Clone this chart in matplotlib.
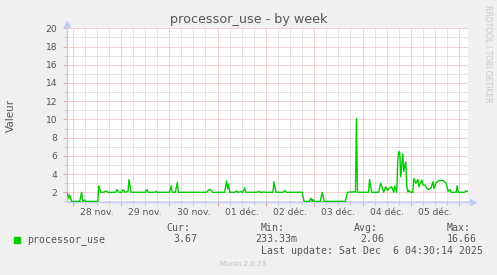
import matplotlib as mpl
mpl.use('Agg')
import matplotlib.pyplot as plt
from matplotlib.ticker import MultipleLocator, NullFormatter
from matplotlib import transforms
from matplotlib.patches import Rectangle

# x = hours since 27 nov 00:00
hours = [21.2, 22.0, 22.5, 23.0, 23.5, 27.5, 28.5, 29.0, 30.0, 30.5, 36.5, 37.0, 38.0,
         39.5, 40.5, 41.5, 45.5, 46.0, 47.0, 48.5, 49.0, 50.0, 51.5, 52.0, 53.0,
         60.0, 61.0, 61.5, 65.0, 65.5, 66.0, 72.0, 73.0, 73.5, 75.0, 76.0, 76.5,
         90.5, 91.5, 92.5, 93.5, 99.5, 100.5, 101.0, 101.5, 102.0, 104.5, 105.5, 106.0,
         106.5, 107.5, 108.0, 108.5, 109.5, 110.0, 115.5, 116.5, 117.0, 118.5, 119.0, 119.5,
         123.5, 124.0, 125.0, 128.5, 129.5, 130.0, 138.0, 139.0, 141.5, 142.5, 143.0, 143.5,
         144.0, 147.0, 148.0, 149.0, 159.5, 160.5, 164.0, 164.5, 165.0, 165.5,
         171.0, 171.5, 172.5, 176.0, 177.0, 178.0, 178.5, 179.5, 180.5, 181.0, 182.5, 183.5,
         184.0, 185.0, 185.5, 186.0, 186.5, 187.0, 188.0, 188.5, 189.5, 190.0, 190.5, 191.0,
         192.0, 193.0, 193.5, 194.5, 195.5, 196.0, 197.5, 198.0, 199.0, 200.0, 201.0, 202.0,
         203.0, 203.5, 204.5, 205.5, 206.5, 208.0, 209.5, 210.5, 211.5, 212.0, 214.5, 215.0,
         215.5, 218.5, 219.5, 220.4]
values = [2.0, 1.35, 1.7, 1.35, 1.0, 1.0, 2.0, 1.0, 1.15, 1.0, 1.0, 2.7, 2.0,
          2.0, 2.15, 2.0, 2.0, 2.3, 2.0, 2.0, 2.3, 2.0, 2.1, 3.4, 2.0,
          2.0, 2.3, 2.0, 2.0, 2.1, 2.0, 2.0, 2.7, 2.0, 2.0, 3.05, 2.0,
          2.0, 2.25, 2.3, 2.0, 2.0, 3.25, 2.4, 2.9, 2.0, 2.0, 2.15, 2.0,
          2.0, 2.1, 2.0, 2.0, 2.5, 2.0, 2.0, 2.1, 2.0, 2.0, 2.05, 2.0,
          2.0, 3.15, 2.0, 2.0, 2.2, 2.0, 2.0, 1.0, 1.0, 1.35, 1.0, 1.2,
          1.0, 1.0, 2.0, 1.0, 1.0, 2.0, 2.05, 2.0, 10.1, 2.0,
          2.0, 3.4, 2.0, 2.0, 3.0, 2.4, 2.0, 2.6, 2.2, 2.4, 2.6, 2.0,
          2.7, 2.0, 5.5, 6.45, 6.4, 3.7, 6.2, 4.3, 5.35, 2.6, 2.05, 2.2,
          2.0, 2.0, 3.5, 3.0, 3.4, 2.6, 3.35, 2.8, 2.8, 2.4, 2.3, 2.5,
          3.15, 2.4, 3.0, 3.25, 3.3, 3.3, 3.0, 2.1, 2.3, 2.0, 2.0, 2.7,
          2.0, 2.0, 2.15, 2.1]
day_labels = ['28 nov.', '29 nov.', '30 nov.', '01 déc.', '02 déc.', '03 déc.', '04 déc.', '05 déc.']
stat_names = ['Cur:', 'Min:', 'Avg:', 'Max:']
stat_values = ['3.67', '233.33m', '2.06', '16.66']
last_update = 'Last update: Sat Dec  6 04:30:14 2025'

W, H = 497, 275
txt = '#555555'
axis_col = '#c4ccf0'
red = '#e6a4a4'
gray = '#cbcbcb'

fig = plt.figure(figsize=(W / 100, H / 100), dpi=100, facecolor='#f0f0f0')
ax = fig.add_axes([67 / W, 1 - 201.7 / H, 401 / W, 173.4 / H])
ax.set_facecolor('white')

ax.plot(hours, values, color='#00cc00', lw=1.0, zorder=3)
ax.set_xlim(21.2, 220.4)
ax.set_ylim(0.966, 20)

ax.xaxis.set_major_locator(MultipleLocator(24))
ax.xaxis.set_minor_locator(MultipleLocator(6))
ax.xaxis.set_major_formatter(NullFormatter())
ax.yaxis.set_major_locator(MultipleLocator(2))
ax.yaxis.set_minor_locator(MultipleLocator(1))
ax.grid(which='major', color=red, ls=(0, (1, 1)), lw=0.72)
ax.grid(which='minor', color=gray, ls=(0, (1, 1)), lw=0.72)
ax.set_axisbelow(True)

ax.tick_params(axis='both', which='major', length=3, width=0.72, color=red,
               labelsize=6.6, labelcolor=txt, pad=4)
ax.tick_params(axis='both', which='minor', length=2, width=0.72, color=gray)

for s in ['top', 'right']:
    ax.spines[s].set_visible(False)
for s in ['left', 'bottom']:
    ax.spines[s].set_color(axis_col)
    ax.spines[s].set_linewidth(1.0)

# axis arrows
ax.plot([1.0, 1.008], [0, 0], color=axis_col, lw=1.0, transform=ax.transAxes, clip_on=False)
ax.plot([1.012], [0], marker='>', ms=4, color=axis_col, transform=ax.transAxes, clip_on=False)
ax.plot([0], [1.025], marker='^', ms=4, color=axis_col, transform=ax.transAxes, clip_on=False)
ax.plot([0, 0], [1.0, 1.02], color=axis_col, lw=1.0, transform=ax.transAxes, clip_on=False)

# day labels centred on noon
trans = transforms.blended_transform_factory(ax.transData, ax.transAxes)
for i, lab in enumerate(day_labels):
    ax.text(36 + 24 * i, -0.061, lab, transform=trans, ha='center', va='center',
            fontsize=6.6, color=txt)

fig.text(248.5 / W, 1 - 19 / H, 'processor_use - by week', ha='center', va='center',
         fontsize=9.2, color=txt)
fig.text(10.5 / W, 1 - 115 / H, 'Valeur', rotation=90, ha='center', va='center',
         fontsize=7.5, color=txt)
fig.text(487.7 / W, 1 - 54 / H, 'RRDTOOL / TOBI OETIKER', rotation=270, ha='center',
         va='center', fontsize=5.5, color='#c8c8c8')

# legend block
mono = 'DejaVu Sans Mono'
fig.patches.append(Rectangle((14 / W, 1 - 242.5 / H), 6 / W, 6 / H,
                             transform=fig.transFigure, color='#00cc00'))
fig.text(26.7 / W, 1 - 240 / H, 'processor_use', family=mono, fontsize=7.1,
         color=txt, va='center')
name_x = [166.7, 261, 354.3, 446.7]
val_x = [173.7, 255, 360.3, 446.7]
for i in range(len(stat_names)):
    fig.text(name_x[i] / W, 1 - 227.7 / H, stat_names[i], family=mono, fontsize=7.1,
             color=txt, va='center')
    fig.text(val_x[i] / W, 1 - 239.5 / H, stat_values[i], family=mono, fontsize=7.1,
             color=txt, va='center')
fig.text(261 / W, 1 - 251 / H, last_update, family=mono, fontsize=7.1, color=txt,
         va='center')
fig.text(243.3 / W, 1 - 264.3 / H, 'Munin 2.0.73', ha='center', va='center',
         fontsize=5, color='#c0c0c0')

fig.savefig('out.png', dpi=100, facecolor=fig.get_facecolor())
